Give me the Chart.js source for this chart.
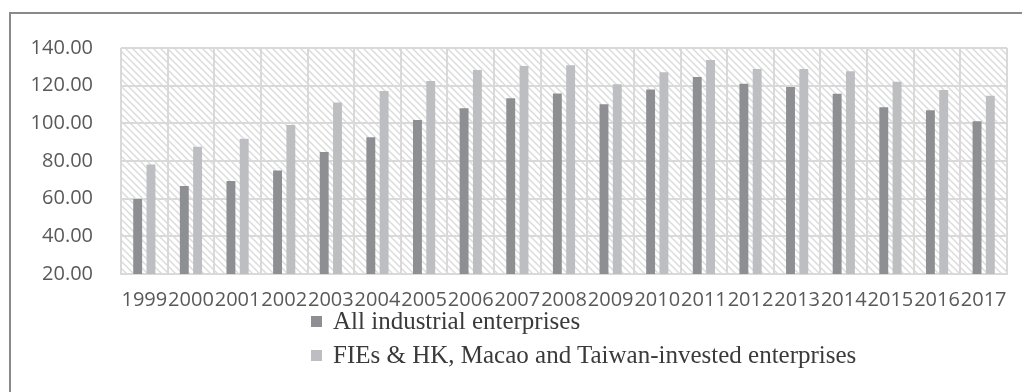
<!DOCTYPE html>
<html>
<head>
<meta charset="utf-8">
<script src="https://cdn.jsdelivr.net/npm/chart.js@4"></script>
<style>
  body { margin: 0; background: #fff; }
  #wrap { position: relative; width: 1022px; height: 392px; overflow: hidden; background: #fff; }
  #frame { position: absolute; left: 9px; top: 12px; width: 1030px; height: 420px; border: 2px solid #8a8a8a; box-sizing: border-box; }
  #chart { position: absolute; left: 0; top: 0; }
  #legend { position: absolute; left: 311px; top: 306px; font-family: "Liberation Serif", "Times New Roman", serif; font-size: 25px; color: #3a3a3a; }
  #legend div { height: 34px; line-height: 30px; display: flex; align-items: flex-start; }
  #legend span.box { display: inline-block; width: 11px; height: 11px; margin: 10px 11px 0 0; flex: none; }
</style>
</head>
<body>
<div id="wrap">
  <div id="frame"></div>
  <canvas id="chart" width="1022" height="320"></canvas>
  <div id="legend"></div>
</div>
<script>
// years and series
const anos = ['1999','2000','2001','2002','2003','2004','2005','2006','2007','2008','2009','2010','2011','2012','2013','2014','2015','2016','2017'];
const todasEmpresas = [59.8, 66.7, 69.4, 74.9, 84.8, 92.6, 101.8, 108.0, 113.3, 115.9, 110.1, 117.9, 124.6, 121.0, 119.3, 115.7, 108.5, 106.9, 101.1];
const empresasEstrangeiras = [78.2, 87.6, 91.8, 99.1, 111.1, 117.2, 122.5, 128.3, 130.4, 130.9, 120.7, 127.1, 133.6, 128.8, 128.8, 127.6, 122.1, 117.7, 114.7];
const nomesSeries = ['All industrial enterprises', 'FIEs & HK, Macao and Taiwan-invested enterprises'];
const coresSeries = ['#8e8f93', '#bdbec1'];
const eixoY = { min: 20, max: 140, passo: 20 };

// diagonal hatch behind the plot area
function criarHachura(ctx) {
    const tile = document.createElement('canvas');
    tile.width = 7;
    tile.height = 7;
    const t = tile.getContext('2d');
    t.fillStyle = '#ffffff';
    t.fillRect(0, 0, 7, 7);
    t.strokeStyle = '#dcdcdc';
    t.lineWidth = 1.5;
    t.beginPath();
    t.moveTo(-1, -1); t.lineTo(8, 8);
    t.moveTo(-8, -1); t.lineTo(1, 8);
    t.moveTo(6, -1); t.lineTo(15, 8);
    t.stroke();
    return ctx.createPattern(tile, 'repeat');
}

const fundoHachurado = {
    id: 'fundoHachurado',
    beforeDraw(chart) {
        const { ctx, chartArea } = chart;
        ctx.save();
        ctx.fillStyle = criarHachura(ctx);
        ctx.fillRect(chartArea.left, chartArea.top, chartArea.right - chartArea.left, chartArea.bottom - chartArea.top);
        ctx.restore();
    }
};

const ctx = document.getElementById('chart').getContext('2d');
new Chart(ctx, {
    type: 'bar',
    data: {
        labels: anos,
        datasets: [
            { label: nomesSeries[0], data: todasEmpresas, backgroundColor: coresSeries[0] },
            { label: nomesSeries[1], data: empresasEstrangeiras, backgroundColor: coresSeries[1] }
        ]
    },
    options: {
        responsive: false,
        animation: false,
        categoryPercentage: 0.57,
        barPercentage: 0.67,
        layout: { padding: { top: 48, right: 15, left: 0, bottom: 0 } },
        plugins: {
            legend: { display: false },
            tooltip: { enabled: false }
        },
        scales: {
            x: {
                grid: { color: '#d9d9d9', lineWidth: 2, drawTicks: false, offset: true },
                border: { color: '#d9d9d9', width: 2 },
                ticks: {
                    color: '#595959',
                    font: { family: 'Open Sans', size: 20 },
                    padding: 14,
                    autoSkip: false,
                    maxRotation: 0
                },
                afterFit(scale) { scale.height = 46; }
            },
            y: {
                min: eixoY.min,
                max: eixoY.max,
                grid: { color: '#d9d9d9', lineWidth: 2, drawTicks: false },
                border: { display: false },
                ticks: {
                    stepSize: eixoY.passo,
                    color: '#595959',
                    font: { family: 'Open Sans', size: 20 },
                    padding: 28,
                    callback: v => v.toFixed(2)
                },
                afterFit(scale) { scale.width = 121; }
            }
        }
    },
    plugins: [fundoHachurado]
});

// legend stacked below the axis
const legenda = document.getElementById('legend');
nomesSeries.forEach((nome, i) => {
    const linha = document.createElement('div');
    linha.innerHTML = `<span class="box" style="background:${coresSeries[i]}"></span>${nome}`;
    legenda.appendChild(linha);
});
</script>
</body>
</html>
